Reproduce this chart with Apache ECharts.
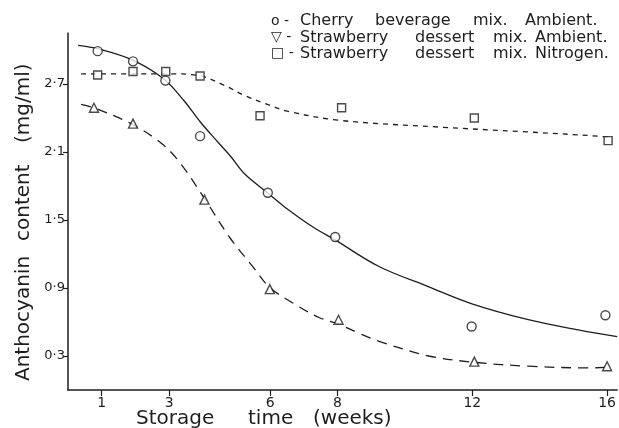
<!DOCTYPE html>
<html><head><meta charset="utf-8">
<script src="https://cdn.jsdelivr.net/npm/echarts@6/dist/echarts.min.js"></script>
<style>html,body{margin:0;padding:0;background:#fff}#c{width:619px;height:428px}</style>
</head><body><div id="c"></div>
<script>
// Tick values / labels
const xTicks = [1, 3, 6, 8, 12, 16];
const yTicks = [0.3, 0.9, 1.5, 2.1, 2.7];
const yTickLabels = ['0·3', '0·9', '1·5', '2·1', '2·7'];

// Measured points (x = storage weeks as plotted, y = mg/ml)
const cherryPts = [[0.88,2.99],[1.93,2.90],[2.89,2.73],[3.92,2.24],[5.93,1.74],[7.93,1.35],[11.98,0.56],[15.95,0.66]];
const strawAmbPts = [[0.77,2.49],[1.93,2.35],[4.05,1.68],[5.99,0.89],[8.03,0.62],[12.06,0.25],[16.0,0.21]];
const strawNitPts = [[0.88,2.78],[1.93,2.81],[2.90,2.81],[3.92,2.77],[5.70,2.42],[8.12,2.49],[12.06,2.40],[16.03,2.20]];

// Hand-drawn fitted curves
const cherryCurve = [[0.30,3.04],[0.89,3.01],[1.92,2.91],[2.86,2.74],[3.45,2.55],[3.94,2.36],[4.44,2.19],[4.83,2.06],[5.23,1.91],[5.92,1.74],[6.41,1.62],[7.26,1.44],[7.95,1.32],[9.23,1.09],[10.71,0.91],[11.99,0.76],[13.66,0.62],[15.14,0.53],[16.3,0.47]];
const strawAmbCurve = [[0.39,2.52],[0.77,2.49],[1.87,2.35],[2.76,2.18],[3.31,2.01],[4.05,1.69],[4.79,1.35],[5.48,1.09],[5.97,0.91],[6.66,0.77],[7.45,0.64],[8.04,0.58],[8.64,0.50],[9.23,0.43],[10.71,0.30],[12.04,0.245],[13.66,0.21],[15.44,0.195],[16.0,0.20]];
const strawNitCurve = [[0.39,2.79],[1.9,2.79],[3.0,2.79],[3.94,2.77],[4.63,2.69],[5.23,2.60],[5.92,2.52],[6.51,2.46],[8.03,2.38],[11.0,2.32],[13.47,2.28],[15.73,2.24],[16.03,2.23]];

// Legend entries
const legendSymbols = ['o -', '▽ -', '□ -'];
const legendWords = [
  ['Cherry', 'beverage', 'mix.', 'Ambient.'],
  ['Strawberry', 'dessert', 'mix.', 'Ambient.'],
  ['Strawberry', 'dessert', 'mix.', 'Nitrogen.']
];
const xAxisWords = ['Storage', 'time', '(weeks)'];
const yAxisWords = ['Anthocyanin', 'content', '(mg/ml)'];

const INK = '#1e1e1e';
const FONT = '"DejaVu Sans", sans-serif';
const chart = echarts.init(document.getElementById('c'), null, {renderer: 'canvas'});

const legendRowY = [21, 37.5, 53.5];
const legendWordX = [[300, 375, 473, 525], [300, 415, 493, 535], [300, 415, 493, 535]];
const graphics = [];
legendWords.forEach((words, r) => {
  graphics.push({type: 'text', x: 271, y: legendRowY[r], style: {text: legendSymbols[r], font: '14px ' + FONT, fill: INK, verticalAlign: 'middle'}});
  words.forEach((w, i) => {
    graphics.push({type: 'text', x: legendWordX[r][i], y: legendRowY[r], style: {text: w, font: '16px ' + FONT, fill: INK, verticalAlign: 'middle'}});
  });
});
const xWordX = [136, 248, 313];
xAxisWords.forEach((w, i) => graphics.push({type: 'text', x: xWordX[i], y: 419, style: {text: w, font: '20px ' + FONT, fill: INK, verticalAlign: 'middle'}}));
const yWordY = [381, 241, 143];
yAxisWords.forEach((w, i) => graphics.push({type: 'text', x: 24, y: yWordY[i], rotation: Math.PI / 2, style: {text: w, font: '20px ' + FONT, fill: INK, verticalAlign: 'middle', align: 'left'}}));

function curve(data, dash) {
  return {type: 'line', data: data, smooth: 0.35, symbol: 'none', silent: true,
    lineStyle: {color: INK, width: 1.3, type: dash}, z: 2};
}
function pts(data, symbol, size) {
  return {type: 'scatter', data: data, symbol: symbol, symbolSize: size, silent: true,
    itemStyle: {color: '#fff', borderColor: INK, borderWidth: 1.4}, z: 3};
}

chart.setOption({
  animation: false,
  backgroundColor: '#fff',
  grid: {left: 68, right: 0, top: 33, bottom: 38, containLabel: false},
  xAxis: {
    type: 'value', min: 0, max: 16.3,
    axisLine: {show: true, lineStyle: {color: INK, width: 1.5}},
    axisTick: {show: true, inside: false, length: 6, customValues: xTicks, lineStyle: {color: INK, width: 1.2}},
    axisLabel: {customValues: xTicks, margin: 6, color: INK, fontSize: 14, fontFamily: FONT},
    splitLine: {show: false}
  },
  yAxis: {
    type: 'value', min: 0, max: 3.15,
    axisLine: {show: true, lineStyle: {color: INK, width: 1.5}},
    axisTick: {show: true, inside: false, length: 5, customValues: yTicks, lineStyle: {color: INK, width: 1.2}},
    axisLabel: {customValues: yTicks, margin: 3, color: INK, fontSize: 13, fontFamily: FONT,
      formatter: v => { const i = yTicks.findIndex(t => Math.abs(t - v) < 1e-6); return i >= 0 ? yTickLabels[i] : ''; }},
    splitLine: {show: false}
  },
  graphic: graphics,
  series: [
    curve(cherryCurve, 'solid'),
    curve(strawAmbCurve, [10, 7]),
    curve(strawNitCurve, [5, 5]),
    pts(cherryPts, 'circle', 9),
    pts(strawAmbPts, 'triangle', 9),
    pts(strawNitPts, 'rect', 8)
  ]
});
</script></body></html>
